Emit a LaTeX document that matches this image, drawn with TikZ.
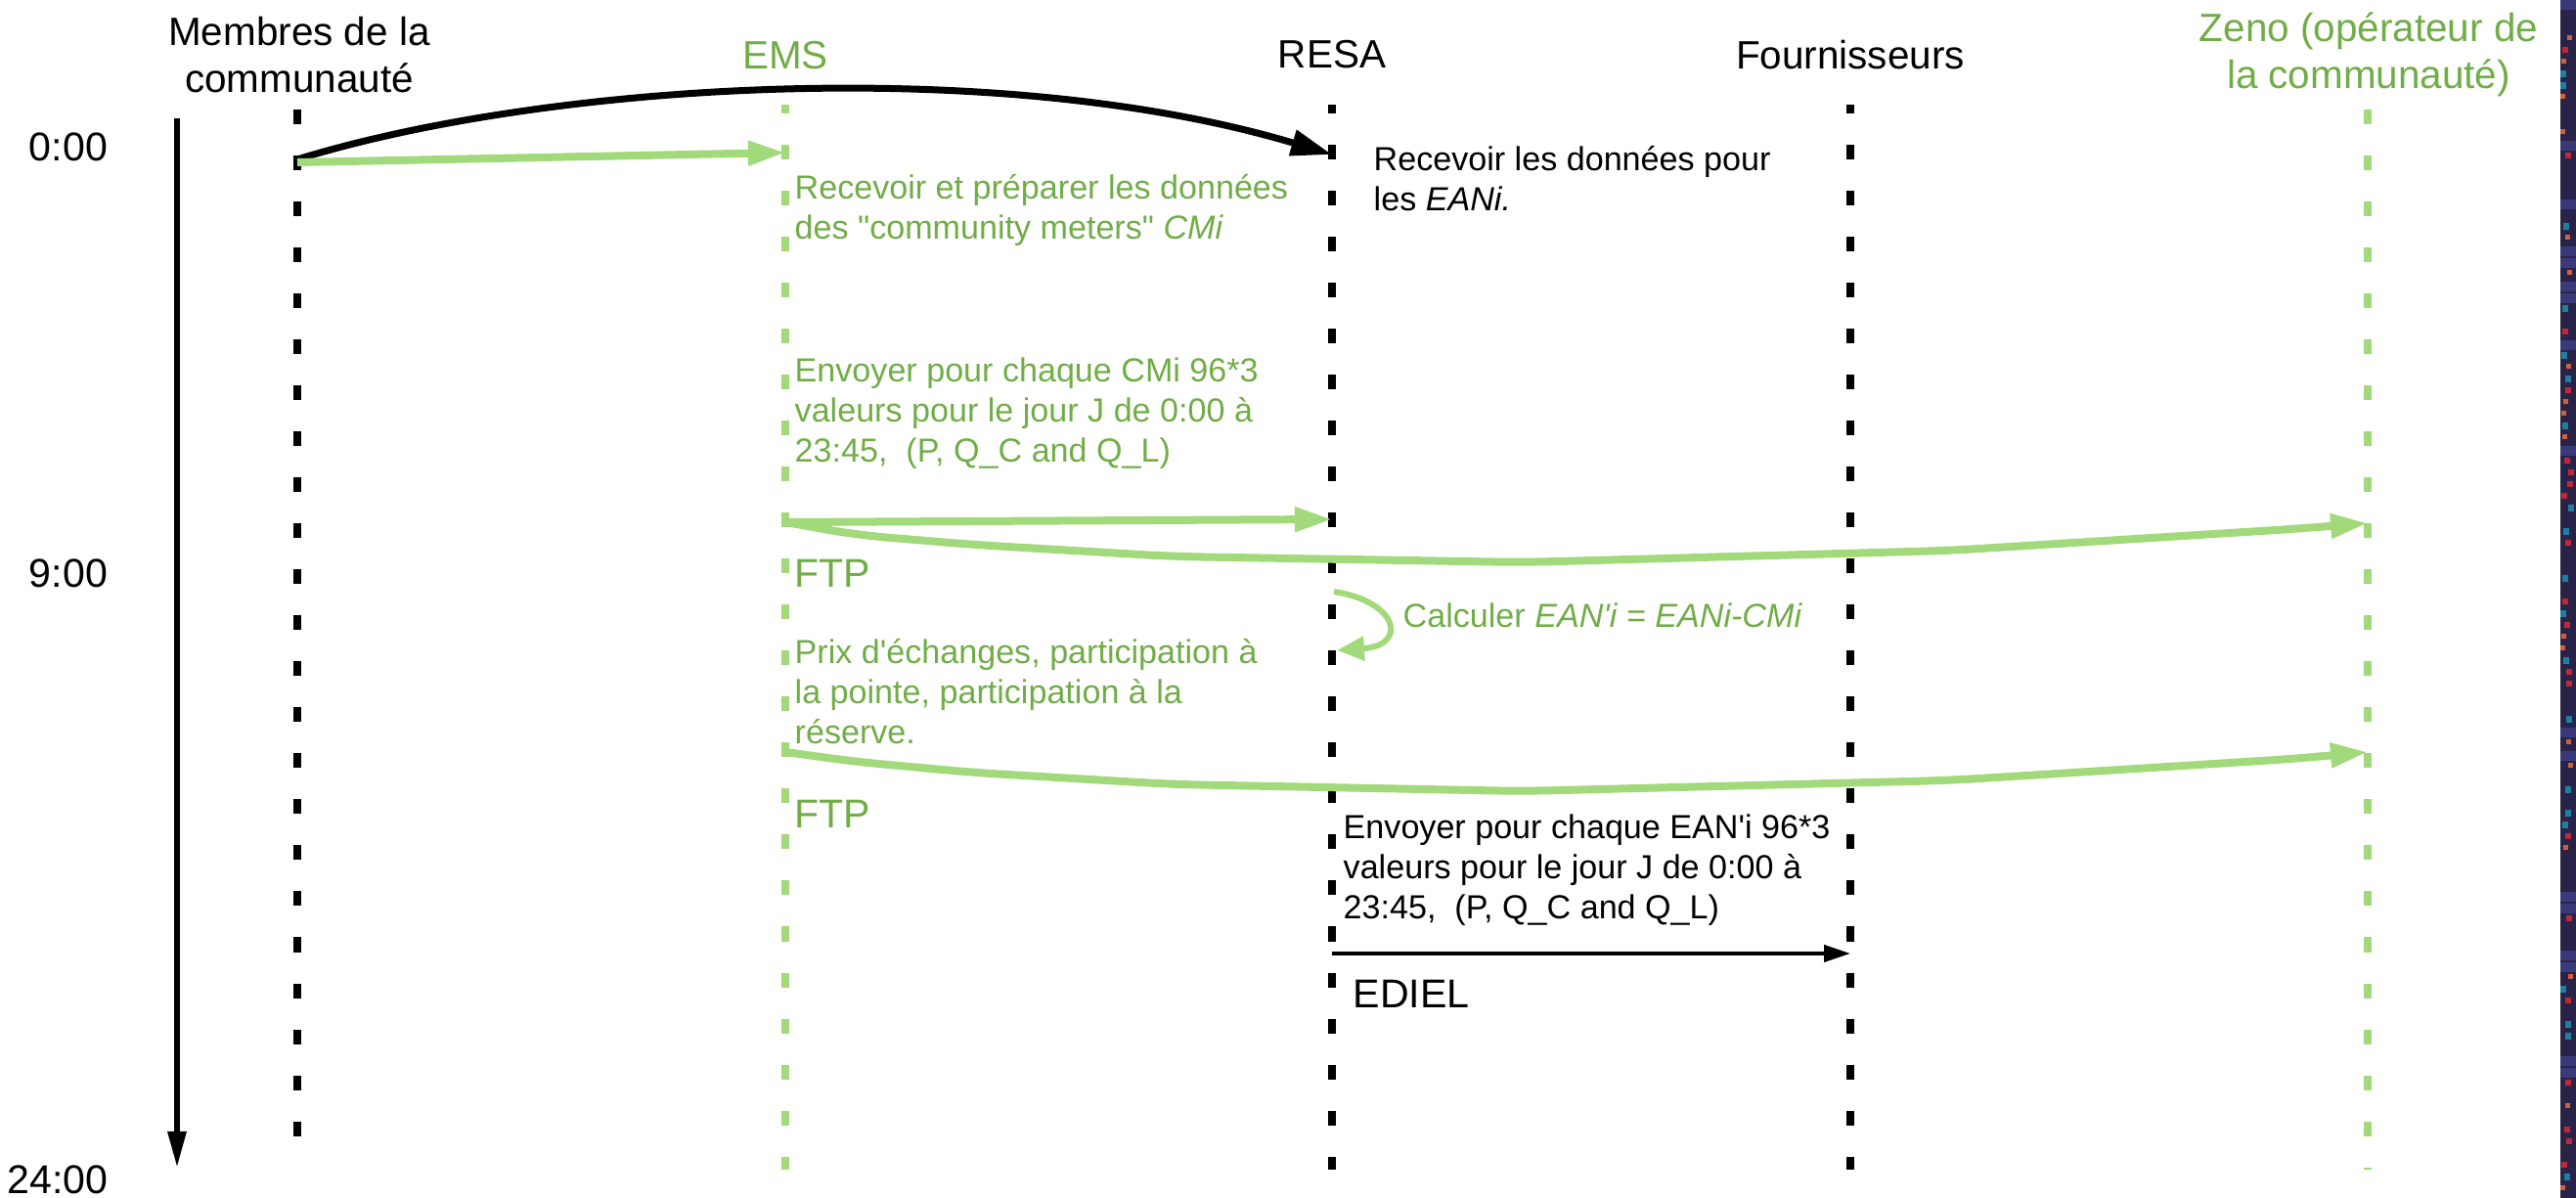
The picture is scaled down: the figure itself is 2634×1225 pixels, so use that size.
\documentclass[tikz,border=0pt]{standalone}
\usepackage{fontspec}
\setmainfont{Liberation Sans}
\usetikzlibrary{arrows.meta}
\definecolor{txtgreen}{HTML}{70AD47}
\definecolor{lngreen}{RGB}{162,217,122}
\definecolor{stripbg}{HTML}{2A2348}
\definecolor{spotA}{HTML}{1E7FA0}
\definecolor{spotB}{HTML}{D0603A}
\definecolor{spotC}{HTML}{C0283A}
\definecolor{spotD}{HTML}{3A3A7A}

\begin{document}
\begin{tikzpicture}[x=0.01cm,y=-0.01cm,
    title/.style={font=\fontsize{11.5}{13.6}\selectfont,align=center,inner sep=0pt},
    txt/.style={font=\fontsize{9.7}{11.7}\selectfont,align=left,anchor=west,inner sep=0pt},
    big/.style={font=\fontsize{11.7}{13.6}\selectfont,anchor=west,inner sep=0pt},
    life/.style={line width=0.08cm,dash pattern=on 0.15cm off 0.32cm},
    gmsg/.style={lngreen,line width=0.08cm,-{Triangle[length=0.38cm,width=0.24cm]}},
  ]
  \useasboundingbox (0,0) rectangle (2634,1225);

  % titles of the lifelines
  \node[title] (mem) at (306,56) {Membres de la\\communauté};
  \node[title,txtgreen] (ems) at (803,57) {EMS};
  \node[title] (resa) at (1362,56) {RESA};
  \node[title] (four) at (1892,56) {Fournisseurs};
  \node[title,txtgreen] (zeno) at (2422,56) {Zeno (opérateur de\\la communauté)};

  % time axis
  \node[big,anchor=center] (t0) at (70,150) {0:00};
  \node[big,anchor=center] (t9) at (70,586) {9:00};
  \node[big,anchor=center] (t24) at (59,1206) {24:00};
  \coordinate (ax-top) at (181,121);
  \coordinate (ax-end) at (181,1194);
  \draw[line width=0.06cm,-{Triangle[length=0.37cm,width=0.18cm]}] (ax-top) -- (ax-end);

  % lifelines
  \foreach \n/\x/\c/\s/\e/\p in {mem/304/black/112/1192/0,
      ems/803/lngreen/107/1196/0.06, resa/1362/black/107/1196/0.06,
      four/1892/black/107/1196/0.06, zeno/2421/lngreen/112/1196/0} {
    \coordinate (\n-top) at (\x,\s);
    \coordinate (\n-bot) at (\x,\e);
    \draw[life,\c,dash phase=\p cm] (\n-top) -- (\n-bot);
  }

  % 0:00 -- data of the members
  \coordinate (mem-a) at (304,163);
  \coordinate (resa-a) at (1362,158);
  \draw[line width=0.07cm,-{Triangle[length=0.42cm,width=0.26cm]}] (mem-a) .. controls (560,84) and (1020,56) .. (resa-a);
  \coordinate (mem-b) at (304,166);
  \coordinate (ems-b) at (803,156);
  \draw[gmsg] (mem-b) -- (ems-b);
  \node[txt,txtgreen] (prep) at (812,215) {Recevoir et préparer les données\\des \textquotedbl community meters\textquotedbl{} \textit{CMi}};
  \node[txt] (recv) at (1404,183) {Recevoir les données pour\\les \textit{EANi.}};

  % 9:00 -- sending of the CMi values
  \node[txt,txtgreen] (send) at (812,423) {Envoyer pour chaque CMi 96*3\\valeurs pour le jour J de 0:00 à\\23:45,~ (P, Q\_C and Q\_L)};
  \coordinate (ems-c) at (803,534);
  \coordinate (resa-c) at (1362,531);
  \coordinate (zeno-c) at (2421,535);
  \draw[gmsg] (ems-c) -- (resa-c);
  \draw[gmsg,rounded corners=0.3cm] (ems-c) -- (876,547) -- (996,557) -- (1199,569) -- (1557,575) -- (1992,563) -- (2344,541) -- (zeno-c);
  \node[big,txtgreen] (ftp1) at (812,586) {FTP};

  % calculation at RESA
  \coordinate (resa-d) at (1364,605);
  \coordinate (resa-e) at (1367,665);
  \draw[lngreen,line width=0.06cm,-{Triangle[length=0.28cm,width=0.24cm]}] (resa-d) .. controls (1430,615) and (1440,660) .. (resa-e);
  \node[txt,txtgreen] (calc) at (1434,629) {Calculer \textit{EAN\textquotesingle i = EANi-CMi}};

  % prices
  \node[txt,txtgreen] (prix) at (812,707) {Prix d\textquotesingle échanges, participation à\\la pointe, participation à la\\réserve.};
  \coordinate (ems-f) at (803,769);
  \coordinate (zeno-f) at (2421,769);
  \draw[gmsg,rounded corners=0.3cm] (ems-f) -- (876,779) -- (996,790) -- (1199,802) -- (1557,809) -- (1992,798) -- (2344,776) -- (zeno-f);
  \node[big,txtgreen] (ftp2) at (812,832) {FTP};

  % RESA to the suppliers
  \node[txt] (ean) at (1373,890) {Envoyer pour chaque EAN\textquotesingle i 96*3\\valeurs pour le jour J de 0:00 à\\23:45,~ (P, Q\_C and Q\_L)};
  \coordinate (resa-g) at (1362,975);
  \coordinate (four-g) at (1892,975);
  \draw[line width=0.04cm,-{Triangle[length=0.27cm,width=0.17cm]}] (resa-g) -- (four-g);
  \node[big] (ediel) at (1383,1016) {EDIEL};

  % strip of background image at the right edge
  \fill[stripbg] (2618,0) rectangle (2634,1225);
  \pgfmathsetseed{11}
  \foreach \y in {0,12,...,1220} {
    \pgfmathrandominteger{\k}{1}{6}
    \pgfmathrandominteger{\dx}{0}{8}
    \ifcase\k\or
      \fill[spotA] (2618+\dx,\y) rectangle +(6,7);
    \or
      \fill[spotB] (2618+\dx,\y) rectangle +(5,5);
    \or
      \fill[spotC] (2618+\dx,\y) rectangle +(6,6);
    \or
      \fill[spotD] (2618,\y) rectangle +(16,10);
    \fi
  }
\end{tikzpicture}
\end{document}
